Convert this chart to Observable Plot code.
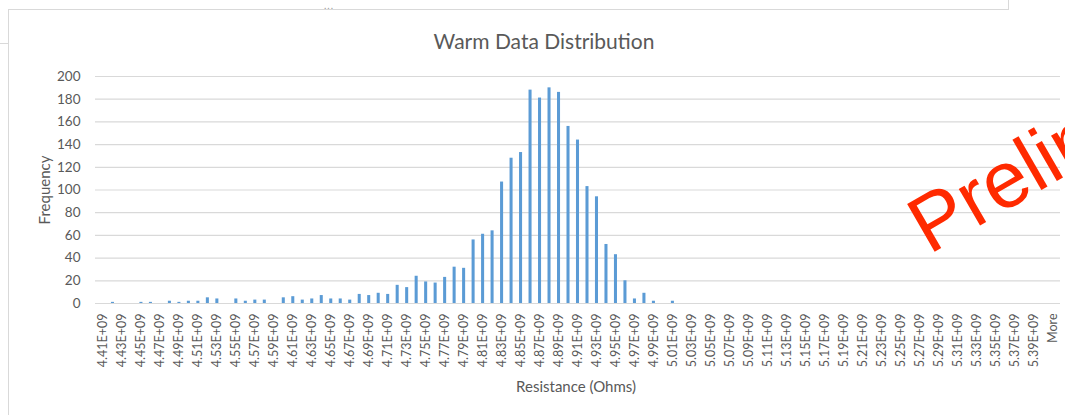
<!DOCTYPE html>
<html>
<head>
<meta charset="utf-8">
<script src="https://cdn.jsdelivr.net/npm/d3@7"></script>
<script src="https://cdn.jsdelivr.net/npm/@observablehq/plot@0.6"></script>
<style>
  html, body { margin: 0; padding: 0; background: #fff; overflow: hidden; }
  #wrap { position: relative; width: 1065px; height: 415px; overflow: hidden; font-family: Lato, sans-serif; color: #595959; }
  #title { position: absolute; left: 0; width: 1088px; top: 28px; text-align: center; font-size: 21px; }
  #ytitle { position: absolute; left: 44px; top: 190px; transform: translate(-50%, -50%) rotate(-90deg); font-size: 15px; white-space: nowrap; }
  #xtitle { position: absolute; left: 576px; top: 386px; transform: translate(-50%, -50%); font-size: 15px; white-space: nowrap; }
  #chart { position: absolute; left: 0; top: 0; }
  .ln { position: absolute; background: #d9d9d9; }
  #dots { position: absolute; left: 324px; top: 0px; font-size: 10px; line-height: 10px; color: #999; letter-spacing: 1px; }
  #wm { position: absolute; left: 0; top: 0; pointer-events: none; }
</style>
</head>
<body>
<div id="wrap">
  <div class="ln" style="left:8px; top:9px; width:1000px; height:1px;"></div>
  <div class="ln" style="left:8px; top:9px; width:1px; height:406px;"></div>
  <div class="ln" style="left:1008px; top:0px; width:1px; height:10px;"></div>
  <div class="ln" style="left:0px; top:43px; width:8px; height:1px;"></div>
  <div id="dots">...</div>
  <div id="chart"></div>
  <div id="title">Warm Data Distribution</div>
  <div id="ytitle">Frequency</div>
  <div id="xtitle">Resistance (Ohms)</div>
  <svg id="wm" width="1065" height="415">
    <text id="wmtext" x="0" y="0" font-family="Liberation Sans, Arial, sans-serif" font-size="80" fill="#ff2a00">Preliminary</text>
  </svg>
</div>
<script>
const categories = [
  "4.41E+09","4.42E+09","4.43E+09","4.44E+09","4.45E+09","4.46E+09","4.47E+09","4.48E+09","4.49E+09","4.50E+09",
  "4.51E+09","4.52E+09","4.53E+09","4.54E+09","4.55E+09","4.56E+09","4.57E+09","4.58E+09","4.59E+09","4.60E+09",
  "4.61E+09","4.62E+09","4.63E+09","4.64E+09","4.65E+09","4.66E+09","4.67E+09","4.68E+09","4.69E+09","4.70E+09",
  "4.71E+09","4.72E+09","4.73E+09","4.74E+09","4.75E+09","4.76E+09","4.77E+09","4.78E+09","4.79E+09","4.80E+09",
  "4.81E+09","4.82E+09","4.83E+09","4.84E+09","4.85E+09","4.86E+09","4.87E+09","4.88E+09","4.89E+09","4.90E+09",
  "4.91E+09","4.92E+09","4.93E+09","4.94E+09","4.95E+09","4.96E+09","4.97E+09","4.98E+09","4.99E+09","5.00E+09",
  "5.01E+09","5.02E+09","5.03E+09","5.04E+09","5.05E+09","5.06E+09","5.07E+09","5.08E+09","5.09E+09","5.10E+09",
  "5.11E+09","5.12E+09","5.13E+09","5.14E+09","5.15E+09","5.16E+09","5.17E+09","5.18E+09","5.19E+09","5.20E+09",
  "5.21E+09","5.22E+09","5.23E+09","5.24E+09","5.25E+09","5.26E+09","5.27E+09","5.28E+09","5.29E+09","5.30E+09",
  "5.31E+09","5.32E+09","5.33E+09","5.34E+09","5.35E+09","5.36E+09","5.37E+09","5.38E+09","5.39E+09","5.40E+09",
  "More"
];
const frequency = [
  0, 1, 0, 0, 1, 1, 0, 2, 1, 2,
  2, 5, 4, 0, 4, 2, 3, 3, 0, 5,
  6, 3, 4, 7, 4, 4, 3, 8, 7, 9,
  8, 16, 14, 24, 19, 18, 23, 32, 31, 56,
  61, 64, 107, 128, 133, 188, 181, 190, 186, 156,
  144, 103, 94, 52, 43, 20, 4, 9, 2, 0,
  2, 0, 0, 0, 0, 0, 0, 0, 0, 0,
  0, 0, 0, 0, 0, 0, 0, 0, 0, 0,
  0, 0, 0, 0, 0, 0, 0, 0, 0, 0,
  0, 0, 0, 0, 0, 0, 0, 0, 0, 0,
  0
];
const yTicks = [0, 20, 40, 60, 80, 100, 120, 140, 160, 180, 200];
const xTickLabels = categories.filter((d, i) => i % 2 === 0);

const data = categories.map((c, i) => ({bin: c, count: frequency[i]}));

const chart = Plot.plot({
  width: 1065,
  height: 415,
  marginLeft: 95,
  marginRight: 5,
  marginTop: 76,
  marginBottom: 112,
  style: {fontFamily: "Lato, sans-serif", color: "#595959", background: "transparent"},
  x: {type: "band", domain: categories, padding: 0.68, align: 0.5},
  y: {domain: [0, 200]},
  marks: [
    Plot.ruleY(yTicks, {stroke: "#d9d9d9", strokeWidth: 1.2}),
    Plot.barY(data, {x: "bin", y: "count", fill: "#5b9bd5"}),
    Plot.axisY(yTicks, {tickSize: 0, tickPadding: 15, label: null, fontSize: 13.5, fill: "#595959"}),
    Plot.axisX(xTickLabels, {tickSize: 0, tickPadding: 10, tickRotate: -90, label: null, fontSize: 12.5, fill: "#595959"})
  ]
});
document.getElementById("chart").appendChild(chart);

document.getElementById("wmtext").setAttribute("transform", "translate(929,255) rotate(-30)");
</script>
</body>
</html>
